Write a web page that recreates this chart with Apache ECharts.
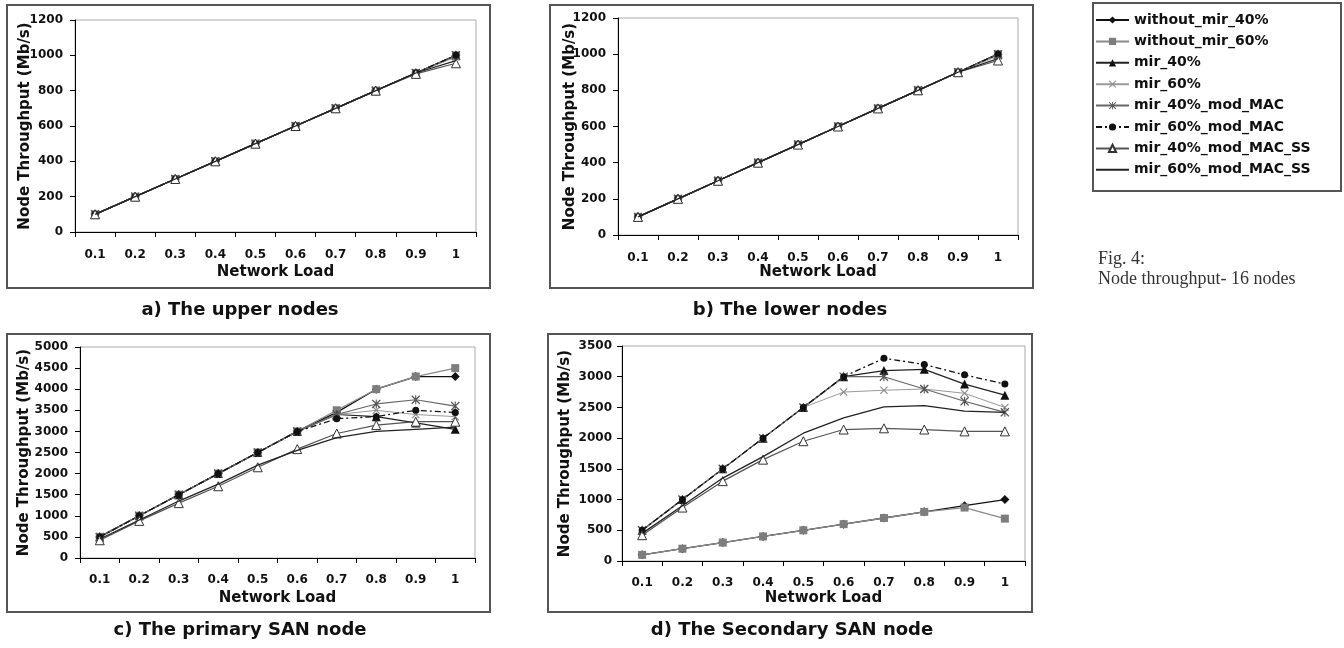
<!DOCTYPE html>
<html><head><meta charset="utf-8">
<script src="https://cdn.jsdelivr.net/npm/echarts@6/dist/echarts.min.js"></script>
<style>html,body{margin:0;padding:0;background:#fff}#c{width:1344px;height:648px}</style>
</head><body><div id="c"></div>
<script>
// ---- data ----
const loads = ['0.1','0.2','0.3','0.4','0.5','0.6','0.7','0.8','0.9','1'];
const seriesNames = ['without_mir_40%','without_mir_60%','mir_40%','mir_60%','mir_40%_mod_MAC','mir_60%_mod_MAC','mir_40%_mod_MAC_SS','mir_60%_mod_MAC_SS'];
const panelTitles = ['a) The upper nodes','b) The lower nodes','c) The primary SAN node','d) The Secondary SAN node'];
const yMax = [1200, 1200, 5000, 3500];
const yStep = [200, 200, 500, 500];

// a) upper nodes
const upper_without40 = [100,200,300,400,500,600,700,800,900,1000];
const upper_without60 = [100,200,300,400,500,600,700,800,900,1000];
const upper_mir40     = [100,200,300,400,500,600,700,800,900,1000];
const upper_mir60     = [100,200,300,400,500,600,700,800,900,990];
const upper_mir40MAC  = [100,200,300,400,500,600,700,800,900,1000];
const upper_mir60MAC  = [100,200,300,400,500,600,700,800,900,1000];
const upper_mir40SS   = [100,200,300,400,500,600,700,800,895,955];
const upper_mir60SS   = [100,200,300,400,500,600,700,800,900,970];
// b) lower nodes
const lower_without40 = [100,200,300,400,500,600,700,800,900,1000];
const lower_without60 = [100,200,300,400,500,600,700,800,900,1000];
const lower_mir40     = [100,200,300,400,500,600,700,800,900,1000];
const lower_mir60     = [100,200,300,400,500,600,700,800,900,990];
const lower_mir40MAC  = [100,200,300,400,500,600,700,800,900,1000];
const lower_mir60MAC  = [100,200,300,400,500,600,700,800,900,1000];
const lower_mir40SS   = [100,200,300,400,500,600,700,800,900,965];
const lower_mir60SS   = [100,200,300,400,500,600,700,800,900,975];
// c) primary SAN node
const primary_without40 = [500,1000,1500,2000,2500,3000,3450,4000,4300,4300];
const primary_without60 = [500,1000,1500,2000,2500,3000,3500,4000,4300,4500];
const primary_mir40     = [500,1000,1500,2000,2500,3000,3400,3350,3200,3050];
const primary_mir60     = [500,1000,1500,2000,2500,3000,3400,3500,3400,3350];
const primary_mir40MAC  = [500,1000,1500,2000,2500,3000,3400,3650,3750,3600];
const primary_mir60MAC  = [500,1000,1500,2000,2500,3000,3300,3350,3500,3450];
const primary_mir40SS   = [420,880,1300,1700,2150,2580,2950,3150,3230,3230];
const primary_mir60SS   = [450,900,1350,1750,2200,2550,2850,3000,3050,3100];
// d) secondary SAN node
const secondary_without40 = [100,200,300,400,500,600,700,800,900,1000];
const secondary_without60 = [100,200,300,400,500,600,700,800,870,690];
const secondary_mir40     = [500,1000,1500,2000,2500,3000,3100,3120,2880,2700];
const secondary_mir60     = [500,1000,1500,2000,2500,2750,2780,2800,2730,2500];
const secondary_mir40MAC  = [500,1000,1500,2000,2500,3000,3000,2800,2600,2420];
const secondary_mir60MAC  = [500,1000,1500,2000,2500,3000,3300,3200,3030,2880];
const secondary_mir40SS   = [420,870,1300,1650,1950,2140,2160,2140,2110,2110];
const secondary_mir60SS   = [450,900,1350,1700,2080,2330,2510,2530,2440,2420];

const panels = [
  [upper_without40,upper_without60,upper_mir40,upper_mir60,upper_mir40MAC,upper_mir60MAC,upper_mir40SS,upper_mir60SS],
  [lower_without40,lower_without60,lower_mir40,lower_mir60,lower_mir40MAC,lower_mir60MAC,lower_mir40SS,lower_mir60SS],
  [primary_without40,primary_without60,primary_mir40,primary_mir60,primary_mir40MAC,primary_mir60MAC,primary_mir40SS,primary_mir60SS],
  [secondary_without40,secondary_without60,secondary_mir40,secondary_mir60,secondary_mir40MAC,secondary_mir60MAC,secondary_mir40SS,secondary_mir60SS]
];

// ---- layout & style ----
const F = '"DejaVu Sans", sans-serif';
const XSYM = 'path://M1,0 L5,4 L9,0 L10,1 L6,5 L10,9 L9,10 L5,6 L1,10 L0,9 L4,5 L0,1 Z';
const STAR = 'path://M1,0 L5,4 L9,0 L10,1 L6,5 L10,9 L9,10 L5,6 L1,10 L0,9 L4,5 L0,1 Z M4.4,0 L5.6,0 L5.6,10 L4.4,10 Z';
const styles = [
  {fill:'#111', sym:'diamond', size:9, line:{color:'#111', width:1.3, type:'solid'}},
  {fill:'#7d7d7d', sym:'rect', size:8, line:{color:'#8a8a8a', width:1.3, type:'solid'}},
  {fill:'#111', sym:'triangle', size:9, line:{color:'#222', width:1.2, type:'solid'}},
  {fill:'#8a8a8a', sym:XSYM, size:8, line:{color:'#9a9a9a', width:1, type:'solid'}},
  {fill:'#555', sym:STAR, size:9, line:{color:'#666', width:1.2, type:'solid'}},
  {fill:'#111', sym:'circle', size:7, line:{color:'#111', width:1.3, type:[6,3,2,3]}},
  {fill:'#fff', border:'#333', sym:'triangle', size:9, line:{color:'#555', width:1.2, type:'solid'}},
  {fill:'#111', sym:'none', size:0, line:{color:'#222', width:1.3, type:'solid'}}
];
const grids = [
  {left:75, top:20, width:401, height:212},
  {left:618, top:18, width:400, height:217},
  {left:80, top:347, width:395, height:211},
  {left:622, top:346, width:403, height:215}
];
const xLabelMargin = [17, 17, 16, 16];
const xNameGap = [33, 30, 33, 30];
const yLabelMargin = [12, 12, 12, 10];
const yNameGap = [42, 40, 48, 49];

const option = {
  backgroundColor:'#fff',
  animation:false,
  grid: grids.map(g => Object.assign({show:true, borderColor:'#aaa', borderWidth:1, backgroundColor:'transparent'}, g)),
  xAxis: grids.map((g,i) => ({
    type:'category', gridIndex:i, data:loads, boundaryGap:true,
    axisLine:{show:true, lineStyle:{color:'#000', width:1}},
    axisTick:{show:true, length:5, lineStyle:{color:'#000'}},
    axisLabel:{margin:xLabelMargin[i], fontFamily:F, fontWeight:'bold', fontSize:12, color:'#111'},
    splitLine:{show:false},
    name:'Network Load', nameLocation:'middle', nameGap:xNameGap[i], nameMoveOverlap:false,
    nameTextStyle:{fontFamily:F, fontWeight:'bold', fontSize:15, color:'#111'}
  })),
  yAxis: grids.map((g,i) => ({
    type:'value', gridIndex:i, min:0, max:yMax[i], interval:yStep[i],
    axisLine:{show:true, lineStyle:{color:'#000', width:1}},
    axisTick:{show:true, length:5, lineStyle:{color:'#000'}},
    axisLabel:{margin:yLabelMargin[i], fontFamily:F, fontWeight:'bold', fontSize:12, color:'#111', formatter:v => String(v)},
    splitLine:{show:false},
    name:'Node Throughput (Mb/s)', nameLocation:'middle', nameGap:yNameGap[i], nameRotate:90, nameMoveOverlap:false,
    nameTextStyle:{fontFamily:F, fontWeight:'bold', fontSize:15, color:'#111'}
  })),
  legend:{
    show:true, orient:'vertical', left:1095, top:13, padding:0,
    itemWidth:33, itemHeight:9, itemGap:7.4,
    data:seriesNames.map((n, i) => styles[i].sym === 'none'
      ? {name:n, itemStyle:{color:'rgba(0,0,0,0)', borderColor:'rgba(0,0,0,0)', borderWidth:0}}
      : n),
    textStyle:{fontFamily:F, fontWeight:'bold', fontSize:14, color:'#111', lineHeight:14}
  },
  series: [],
  graphic: []
};

panels.forEach((arrs, p) => {
  arrs.forEach((arr, i) => {
    const s = styles[i];
    option.series.push({
      type:'line', name:seriesNames[i], xAxisIndex:p, yAxisIndex:p, data:arr,
      symbol:s.sym, symbolSize:s.size, showSymbol:s.sym !== 'none',
      itemStyle:{color:s.fill, borderColor:s.border || s.fill, borderWidth:s.border ? 1 : 0},
      lineStyle:s.line, emphasis:{disabled:true}, z:2 + i
    });
  });
});

const boxes = [
  {x:7, y:5, width:483, height:283},
  {x:550, y:5, width:483, height:283},
  {x:7, y:334, width:483, height:278},
  {x:548, y:334, width:484, height:278}
];
boxes.forEach(b => option.graphic.push({type:'rect', shape:b, style:{fill:'none', stroke:'#555', lineWidth:2}, silent:true}));
option.graphic.push({type:'rect', shape:{x:1093, y:3, width:248, height:188}, style:{fill:'none', stroke:'#555', lineWidth:2}, silent:true});
const capPos = [[240,310],[790,310],[240,630],[792,630]];
panelTitles.forEach((t, i) => option.graphic.push({
  type:'text', x:capPos[i][0], y:capPos[i][1],
  style:{text:t, font:'bold 18px ' + F, fill:'#111', textAlign:'center', textVerticalAlign:'middle'}, silent:true
}));
option.graphic.push({type:'text', x:1098, y:259, style:{text:'Fig. 4:', font:'18px "Liberation Serif", serif', fill:'#333', textAlign:'left', textVerticalAlign:'middle'}, silent:true});
option.graphic.push({type:'text', x:1098, y:279, style:{text:'Node throughput- 16 nodes', font:'18px "Liberation Serif", serif', fill:'#333', textAlign:'left', textVerticalAlign:'middle'}, silent:true});

const chart = echarts.init(document.getElementById('c'), null, {renderer:'canvas'});
chart.setOption(option);
</script>
</body></html>
